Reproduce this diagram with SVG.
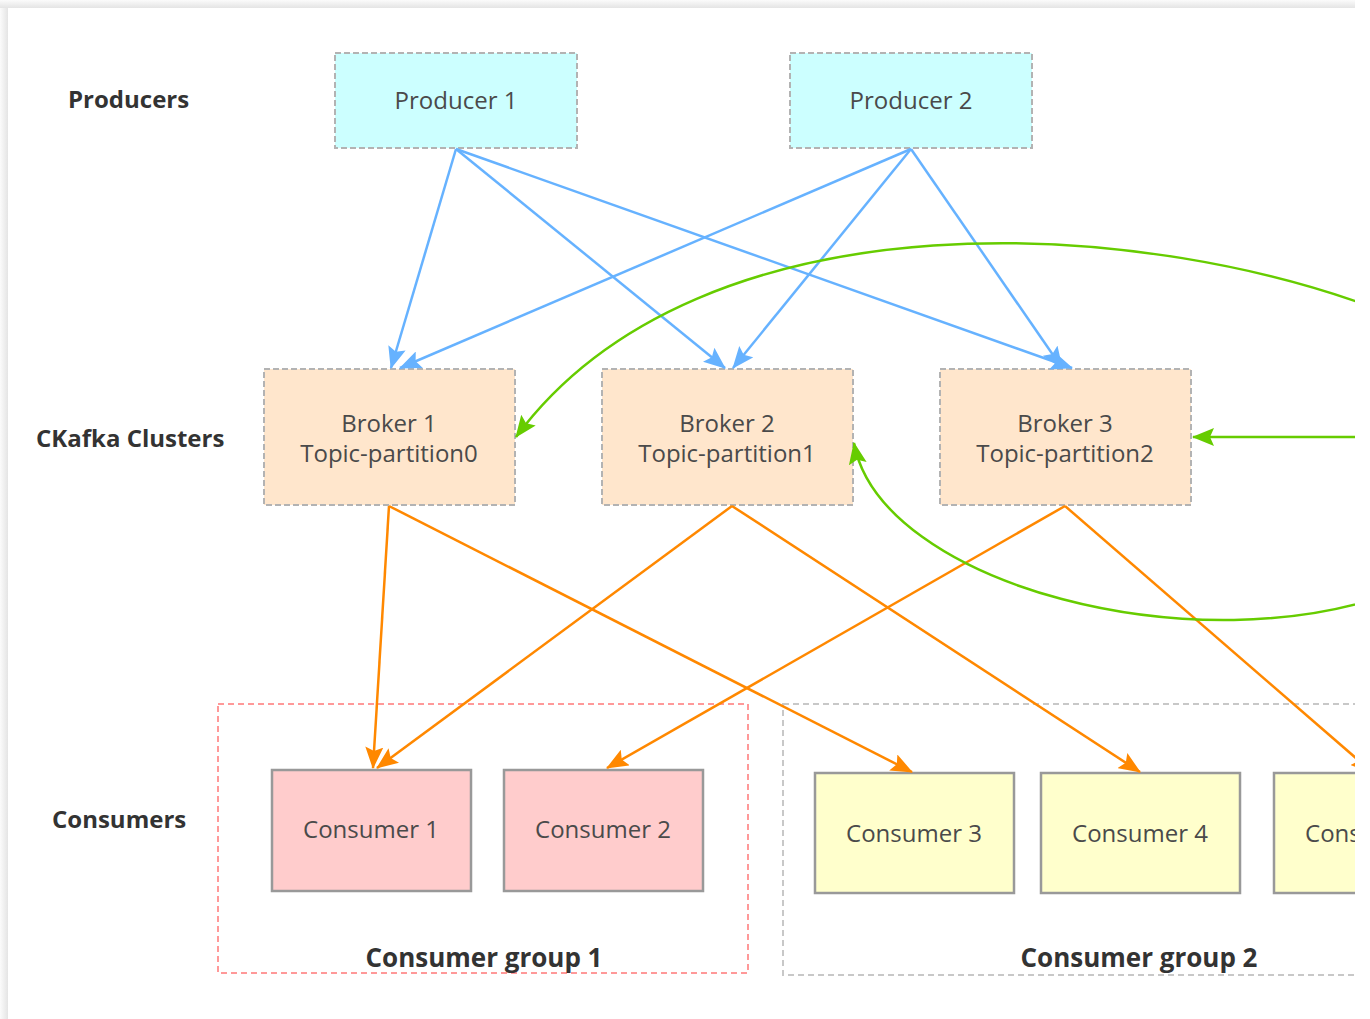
<svg xmlns="http://www.w3.org/2000/svg" width="1370" height="1019" viewBox="0 0 1370 1019">
  <defs>
    <style>
      .lbl { font-family: "Open Sans", "Liberation Sans", sans-serif; font-weight: bold; font-size: 24px; fill: #333333; }
      .grp { font-family: "Open Sans", "Liberation Sans", sans-serif; font-weight: bold; font-size: 26px; fill: #333333; text-anchor: middle; }
      .txt { font-family: "Open Sans", "Liberation Sans", sans-serif; font-size: 24px; fill: #4a4a4a; text-anchor: middle; }
      .prod { fill: #ccffff; stroke: #b3b3b3; stroke-width: 2; stroke-dasharray: 6 3; }
      .brk { fill: #ffe6cc; stroke: #b3b3b3; stroke-width: 2; stroke-dasharray: 6 3; }
      .c1 { fill: #ffcccc; stroke: #999999; stroke-width: 2.5; }
      .c2 { fill: #ffffcc; stroke: #999999; stroke-width: 2.5; }
      .blue { stroke: #66b2ff; stroke-width: 2.5; fill: none; marker-end: url(#ab); }
      .orange { stroke: #ff8800; stroke-width: 2.5; fill: none; marker-end: url(#ao); }
      .green { stroke: #66cc00; stroke-width: 2.5; fill: none; marker-end: url(#ag); }
    </style>
    <marker id="ab" viewBox="0 0 22 18" refX="21" refY="9" markerWidth="22" markerHeight="18" markerUnits="userSpaceOnUse" orient="auto">
      <path d="M22,9 L0,0 L4,9 L0,18 Z" fill="#66b2ff"/>
    </marker>
    <marker id="ao" viewBox="0 0 22 18" refX="21" refY="9" markerWidth="22" markerHeight="18" markerUnits="userSpaceOnUse" orient="auto">
      <path d="M22,9 L0,0 L4,9 L0,18 Z" fill="#ff8800"/>
    </marker>
    <marker id="ag" viewBox="0 0 22 18" refX="21" refY="9" markerWidth="22" markerHeight="18" markerUnits="userSpaceOnUse" orient="auto">
      <path d="M22,9 L0,0 L4,9 L0,18 Z" fill="#66cc00"/>
    </marker>
    <linearGradient id="shTop" x1="0" y1="0" x2="0" y2="1">
      <stop offset="0" stop-color="#fbfbfb"/>
      <stop offset="1" stop-color="#e4e4e4"/>
    </linearGradient>
    <linearGradient id="shLeft" x1="0" y1="0" x2="1" y2="0">
      <stop offset="0" stop-color="#fbfbfb"/>
      <stop offset="1" stop-color="#e4e4e4"/>
    </linearGradient>
    <clipPath id="card">
      <rect x="8" y="8" width="1347" height="1011"/>
    </clipPath>
  </defs>

  <rect x="0" y="0" width="1370" height="1019" fill="#ffffff"/>
  <rect x="0" y="0" width="1355" height="8" fill="url(#shTop)"/>
  <rect x="0" y="8" width="8" height="1011" fill="url(#shLeft)"/>

  <g clip-path="url(#card)">
    <g id="labels">
      <text class="lbl" x="68" y="108">Producers</text>
      <text class="lbl" x="36" y="447">CKafka Clusters</text>
      <text class="lbl" x="52" y="828">Consumers</text>
    </g>

    <g id="consumer-group-1">
      <rect x="218" y="704" width="530" height="269" fill="none" stroke="#ff9999" stroke-width="2" stroke-dasharray="6 4"/>
      <text class="grp" x="484" y="967">Consumer group 1</text>
    </g>
    <g id="consumer-group-2">
      <rect x="783" y="704" width="760" height="271" fill="none" stroke="#c8c8c8" stroke-width="2" stroke-dasharray="6 4"/>
      <text class="grp" x="1139" y="967">Consumer group 2</text>
    </g>

    <g id="producer-1">
      <rect class="prod" x="335" y="53" width="242" height="95"/>
      <text class="txt" x="456" y="109">Producer 1</text>
    </g>
    <g id="producer-2">
      <rect class="prod" x="790" y="53" width="242" height="95"/>
      <text class="txt" x="911" y="109">Producer 2</text>
    </g>

    <g id="broker-1">
      <rect class="brk" x="264" y="369" width="251" height="136"/>
      <text class="txt" x="389" y="432">Broker 1</text>
      <text class="txt" x="389" y="462">Topic-partition0</text>
    </g>
    <g id="broker-2">
      <rect class="brk" x="602" y="369" width="251" height="136"/>
      <text class="txt" x="727" y="432">Broker 2</text>
      <text class="txt" x="727" y="462">Topic-partition1</text>
    </g>
    <g id="broker-3">
      <rect class="brk" x="940" y="369" width="251" height="136"/>
      <text class="txt" x="1065" y="432">Broker 3</text>
      <text class="txt" x="1065" y="462">Topic-partition2</text>
    </g>

    <g id="consumer-1">
      <rect class="c1" x="272" y="770" width="199" height="121"/>
      <text class="txt" x="371" y="838">Consumer 1</text>
    </g>
    <g id="consumer-2">
      <rect class="c1" x="504" y="770" width="199" height="121"/>
      <text class="txt" x="603" y="838">Consumer 2</text>
    </g>
    <g id="consumer-3">
      <rect class="c2" x="815" y="773" width="199" height="120"/>
      <text class="txt" x="914" y="842">Consumer 3</text>
    </g>
    <g id="consumer-4">
      <rect class="c2" x="1041" y="773" width="199" height="120"/>
      <text class="txt" x="1140" y="842">Consumer 4</text>
    </g>
    <g id="consumer-5">
      <rect class="c2" x="1274" y="773" width="199" height="120"/>
      <text class="txt" x="1373" y="842">Consumer 5</text>
    </g>

    <g id="connectors">
      <line class="blue" x1="456" y1="149" x2="391" y2="368"/>
      <line class="blue" x1="456" y1="149" x2="725" y2="368"/>
      <line class="blue" x1="456" y1="149" x2="1072" y2="368"/>
      <line class="blue" x1="911" y1="149" x2="400" y2="368"/>
      <line class="blue" x1="911" y1="149" x2="733" y2="368"/>
      <line class="blue" x1="911" y1="149" x2="1062" y2="368"/>

      <line class="orange" x1="389" y1="506" x2="373" y2="768"/>
      <line class="orange" x1="389" y1="506" x2="912" y2="772"/>
      <line class="orange" x1="732" y1="506" x2="377" y2="768"/>
      <line class="orange" x1="732" y1="506" x2="1140" y2="772"/>
      <line class="orange" x1="1065" y1="506" x2="607" y2="768"/>
      <line class="orange" x1="1065" y1="506" x2="1372" y2="772"/>

      <path class="green" d="M1400,318 C1150,215 700,188 516,437"/>
      <path class="green" d="M1400,590 C1200,668 880,585 854,443"/>
      <line class="green" x1="1400" y1="437" x2="1193" y2="437"/>
    </g>
  </g>
</svg>
